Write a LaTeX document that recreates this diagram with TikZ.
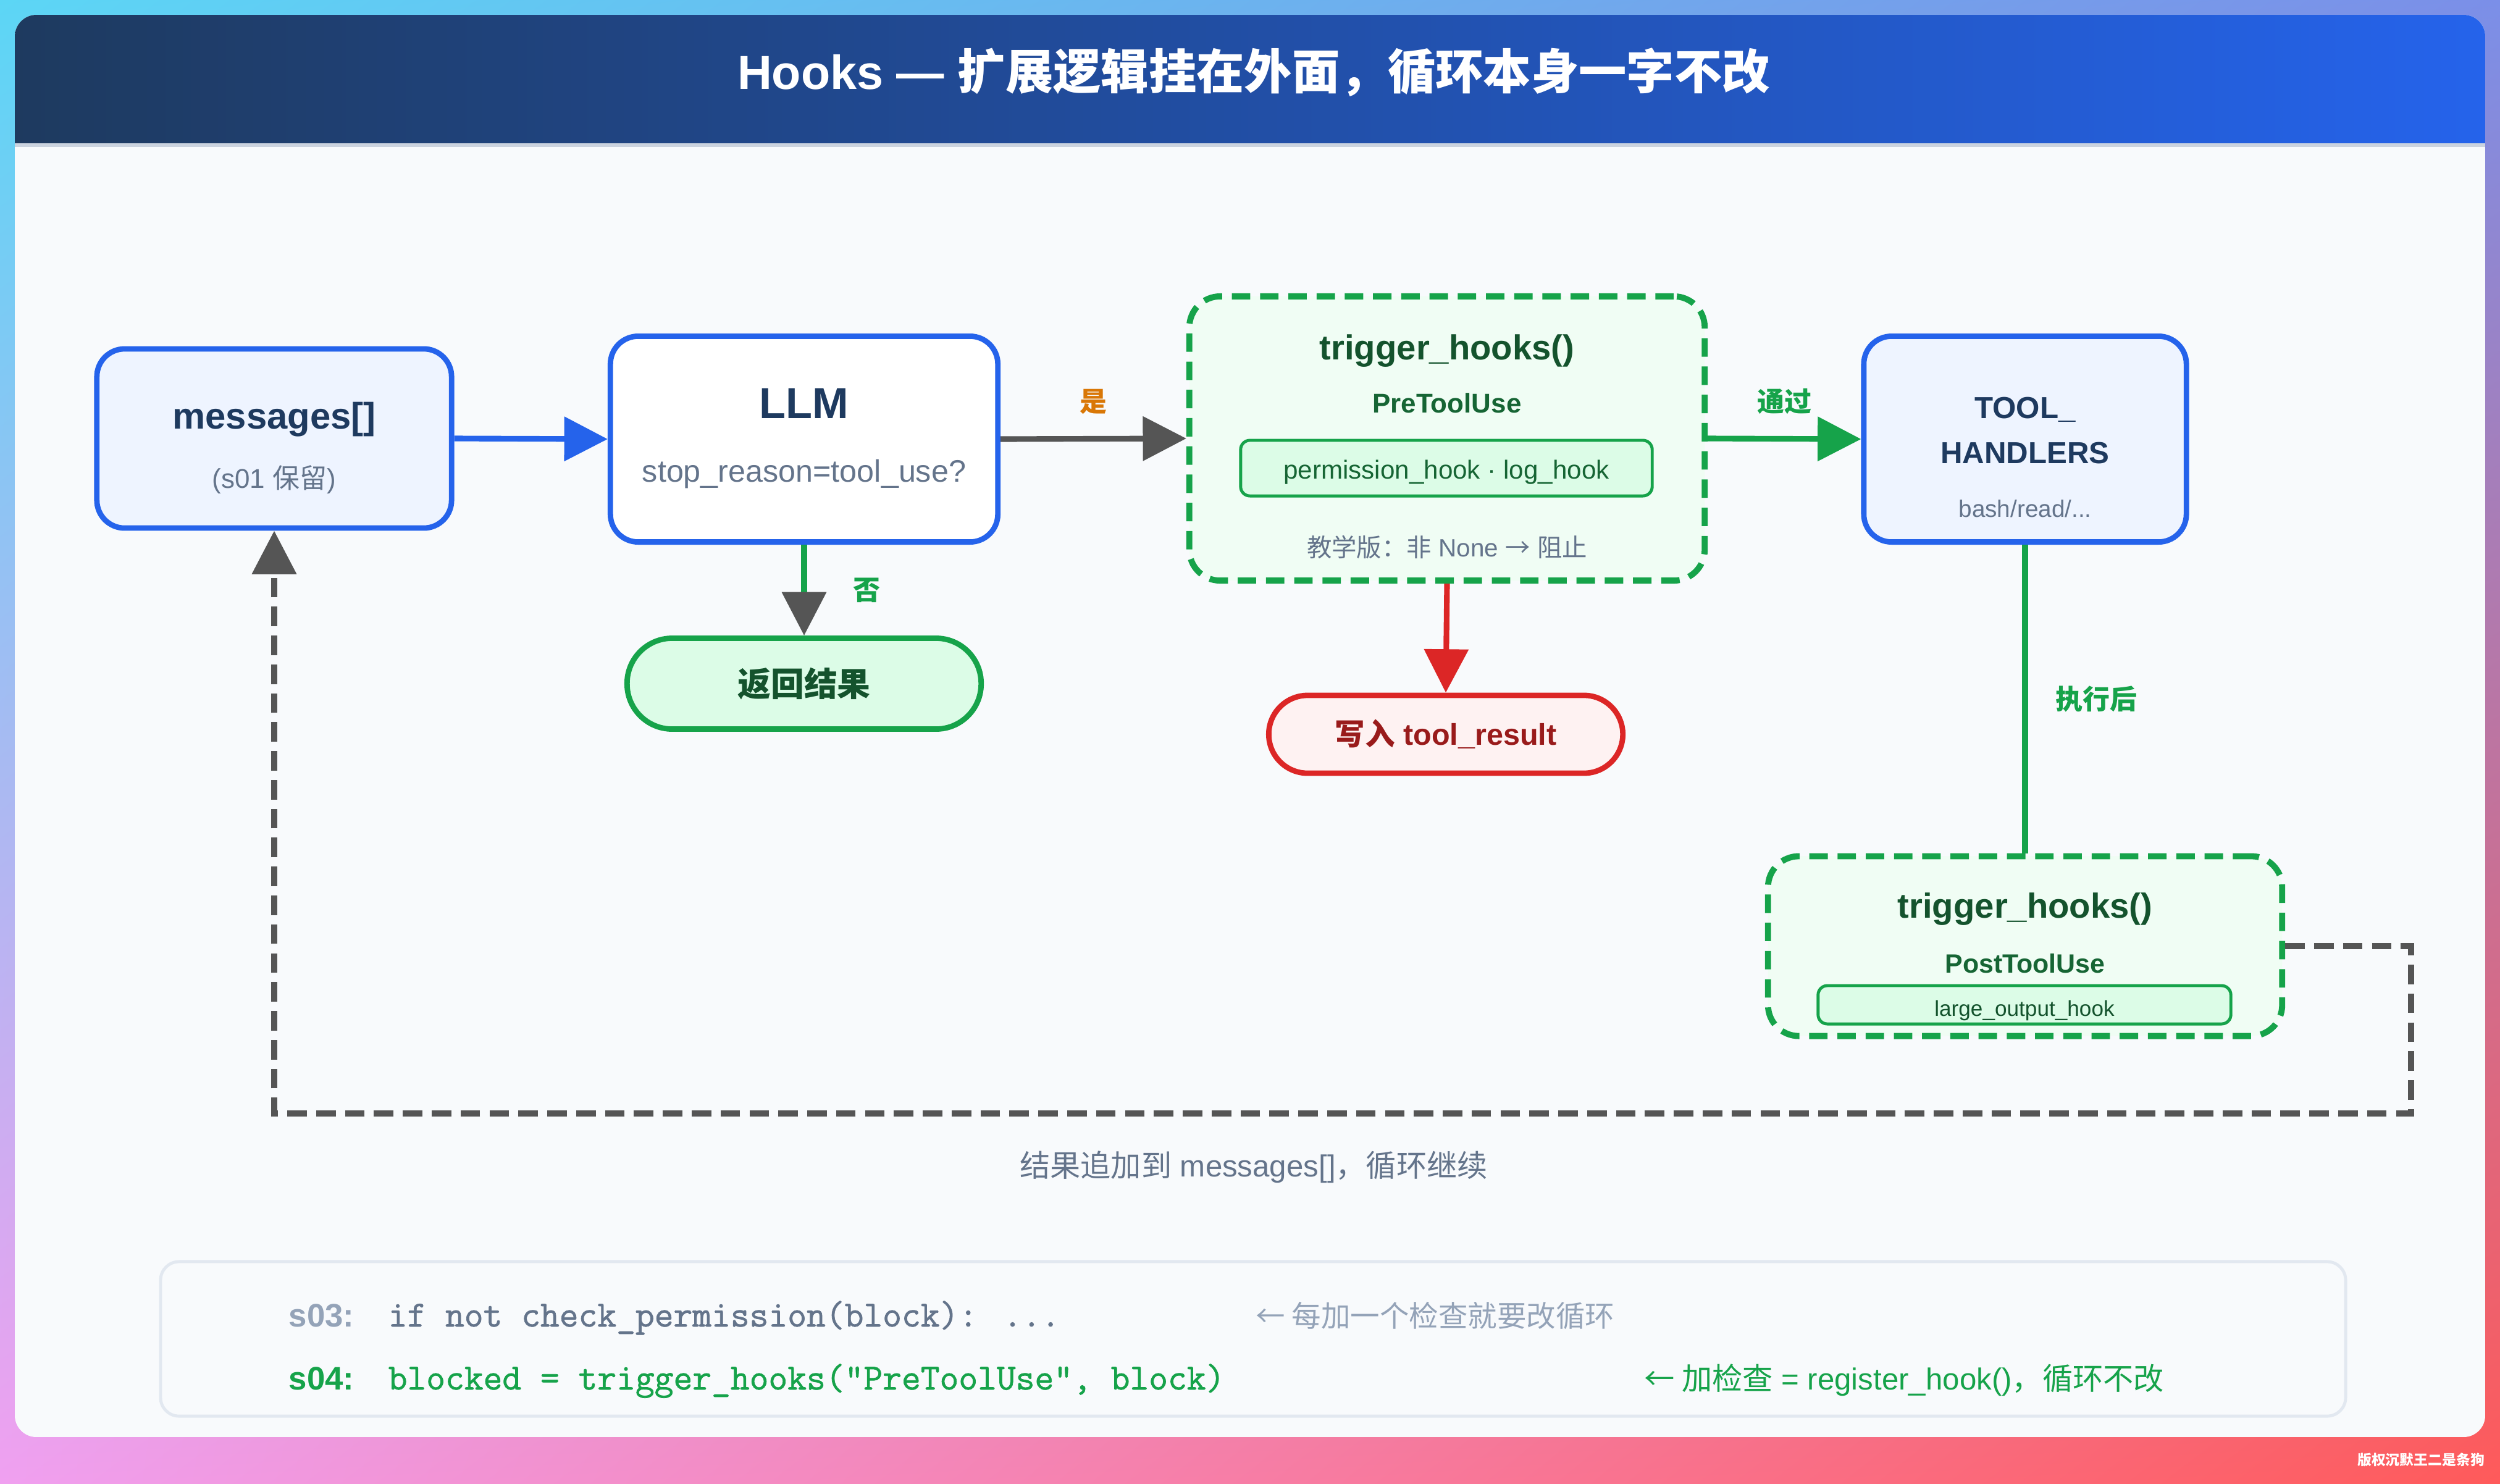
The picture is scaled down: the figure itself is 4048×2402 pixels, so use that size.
\documentclass[tikz,border=0pt]{standalone}
\usepackage{fontspec}
\setmainfont{Liberation Sans}
\newfontfamily\cjk{Noto Sans CJK SC}
\newfontfamily\codefont{Latin Modern Mono}[FakeBold=1.2]
\usetikzlibrary{arrows.meta,shadings}

\definecolor{hknavy}{HTML}{1E3A5F}
\definecolor{hkblue}{HTML}{2563EB}
\definecolor{hkpale}{HTML}{EEF4FF}
\definecolor{hkgray}{HTML}{64748B}
\definecolor{hkslate}{HTML}{94A3B8}
\definecolor{hkgreen}{HTML}{16A34A}
\definecolor{hkforest}{HTML}{166534}
\definecolor{hkdeep}{HTML}{14532D}
\definecolor{hkmint}{HTML}{F0FDF4}
\definecolor{hkleaf}{HTML}{DCFCE7}
\definecolor{hkred}{HTML}{DC2626}
\definecolor{hkrose}{HTML}{FEF2F2}
\definecolor{hkwine}{HTML}{991B1B}
\definecolor{hkorange}{HTML}{D97706}
\definecolor{hkarrow}{HTML}{555555}
\definecolor{hkcard}{HTML}{F8FAFC}
\definecolor{hkrule}{HTML}{E2E8F0}
\definecolor{hkcyan}{HTML}{5CD6F5}
\definecolor{hkviolet}{HTML}{7B8FE8}
\definecolor{hkpink}{HTML}{F0A0F0}
\definecolor{hkcoral}{HTML}{FF5A5A}

\tikzset{
  txt/.style={inner sep=0pt, font=\fontsize{#1}{#1}\selectfont},
  btxt/.style={inner sep=0pt, font=\fontsize{#1}{#1}\selectfont\bfseries},
  codetxt/.style={inner sep=0pt, anchor=base west, font=\fontsize{17}{17}\selectfont\codefont},
  bluebox/.style={draw=hkblue, fill=hkpale, line width=2.5pt, rounded corners=0.45cm, inner sep=0pt},
  hookbox/.style={draw=hkgreen, fill=hkmint, line width=2.8pt, dash pattern=on 8.5pt off 4.5pt, rounded corners=0.5cm, inner sep=0pt},
  chipbox/.style={draw=hkgreen, fill=hkleaf, line width=1.4pt, rounded corners=0.15cm, inner sep=0pt},
  flow/.style={line width=2.6pt, -{Triangle[length=20pt, width=20pt]}},
  edgelbl/.style={inner sep=0pt, font=\fontsize{12.5}{12.5}\selectfont\bfseries\cjk},
}

\begin{document}
\begin{tikzpicture}[x=0.01cm, y=-0.01cm]
  \useasboundingbox (0,0) rectangle (4048,2402);
  \shade[upper left=hkcyan, upper right=hkviolet, lower left=hkpink, lower right=hkcoral] (0,0) rectangle (4048,2402);
  \begin{scope}
    \clip[rounded corners=0.35cm] (24,24) rectangle (4024,2327);
    \fill[hkcard] (24,24) rectangle (4024,2327);
    \shade[left color=hknavy, right color=hkblue] (24,24) rectangle (4024,232);
    \fill[hkrule!70!hkslate] (24,232) rectangle (4024,238);
  \end{scope}
  \node[btxt=22, text=white] (title) at (2030,117) {Hooks — {\cjk 扩展逻辑挂在外面，循环本身一字不改}};

  \node[bluebox, minimum width=5.74cm, minimum height=2.9cm] (msg) at (444,710) {};
  \node[btxt=17, text=hknavy] (msgname) at (444,679) {messages[]};
  \node[txt=12.5, text=hkgray] (msgnote) at (444,777) {(s01 {\cjk 保留})};

  \node[bluebox, fill=white, minimum width=6.27cm, minimum height=3.33cm] (llm) at (1302,711) {};
  \node[btxt=20, text=hknavy] (llmname) at (1302,653) {LLM};
  \node[txt=14.3, text=hkgray] (llmnote) at (1302,767) {stop\_reason=tool\_use?};

  \node[hookbox, minimum width=8.34cm, minimum height=4.6cm] (pre) at (2343,710) {};
  \node[btxt=16, text=hkdeep] (prename) at (2343,568) {trigger\_hooks()};
  \node[btxt=12.5, text=hkforest] (prestage) at (2343,653) {PreToolUse};
  \node[chipbox, minimum width=6.66cm, minimum height=0.9cm] (prechip) at (2342,758) {};
  \node[txt=12, text=hkforest] (prechipname) at (2342,765) {permission\_hook · log\_hook};
  \node[txt=11.5, text=hkgray] (prerule) at (2343,886) {{\cjk 教学版：非} None {\cjk →} {\cjk 阻止}};

  \node[bluebox, minimum width=5.22cm, minimum height=3.33cm] (tool) at (3279,711) {};
  \node[btxt=14, text=hknavy, align=center, font=\fontsize{14}{20.5}\selectfont\bfseries] (toolname) at (3279,697) {TOOL\_\\HANDLERS};
  \node[txt=11, text=hkgray] (toolnote) at (3279,824) {bash/read/...};

  \node[draw=hkgreen, fill=hkleaf, line width=2.5pt, rounded corners=0.73cm, minimum width=5.73cm, minimum height=1.47cm,
        text=hkdeep, font=\fontsize{15.3}{15.3}\selectfont\bfseries\cjk] (ret) at (1302,1107) {返回结果};
  \node[draw=hkred, fill=hkrose, line width=2.5pt, rounded corners=0.63cm, minimum width=5.73cm, minimum height=1.26cm,
        text=hkwine, font=\fontsize{13.8}{13.8}\selectfont\bfseries] (res) at (2341,1189) {{\cjk 写入} tool\_result};

  \node[hookbox, minimum width=8.32cm, minimum height=2.91cm] (post) at (3279,1532) {};
  \node[btxt=16, text=hkdeep] (postname) at (3279,1472) {trigger\_hooks()};
  \node[btxt=12.2, text=hkforest] (poststage) at (3279,1560) {PostToolUse};
  \node[chipbox, minimum width=6.68cm, minimum height=0.62cm] (postchip) at (3278,1627) {};
  \node[txt=10, text=hkdeep] (postchipname) at (3278,1636) {large\_output\_hook};

  \draw[flow, hkblue] (msg.east) -- (llm.west);
  \draw[flow, hkarrow] (llm.east) -- (pre.west) node[midway, above=0.35cm, edgelbl, text=hkorange] (yes) {是};
  \draw[flow, hkgreen, -{Triangle[length=20pt, width=20pt, color=hkarrow]}] (llm.south) -- (ret.north)
    node[midway, right=0.75cm, edgelbl, text=hkgreen] (no) {否};
  \draw[flow, hkgreen] (pre.east) -- (tool.west) node[midway, above=0.35cm, edgelbl, text=hkgreen] (pass) {通过};
  \draw[flow, hkred] (pre.south) -- (res.north);
  \draw[line width=2.6pt, hkgreen] (tool.south) -- (post.north) node[midway, right=0.45cm, edgelbl, text=hkgreen] (after) {执行后};

  \coordinate (loopr) at (3904,1803);
  \draw[flow, hkarrow, line width=2.8pt, dash pattern=on 9pt off 4.3pt] (post.east) -| (loopr) -| (msg.south);
  \node[txt=14, text=hkgray] (looplabel) at (2030,1890) {{\cjk 结果追加到} messages[]{\cjk ，循环继续}};

  \node[draw=hkrule, fill=hkcard, line width=1.4pt, rounded corners=0.3cm, minimum width=35.36cm, minimum height=2.5cm] (code) at (2029,2168) {};
  \node[btxt=15, text=hkslate, anchor=base west] (s03tag) at (467,2148) {s03:};
  \node[codetxt, text=hkgray] (s03code) at (628,2148) {if not check\_permission(block): ...};
  \node[txt=13.5, text=hkslate, anchor=base west] (s03note) at (2033,2148) {{\cjk ← 每加一个检查就要改循环}};
  \node[btxt=15, text=hkgreen, anchor=base west] (s04tag) at (467,2250) {s04:};
  \node[codetxt, text=hkgreen] (s04code) at (628,2250) {blocked = trigger\_hooks("PreToolUse", block)};
  \node[txt=14, text=hkgreen, anchor=base west] (s04note) at (2662,2250) {{\cjk ← 加检查} = register\_hook(){\cjk ，循环不改}};

  \node[text=white, inner sep=0pt, font=\fontsize{6.5}{6.5}\selectfont\bfseries\cjk] (wmark) at (3920,2364) {版权沉默王二是条狗};
\end{tikzpicture}
\end{document}
